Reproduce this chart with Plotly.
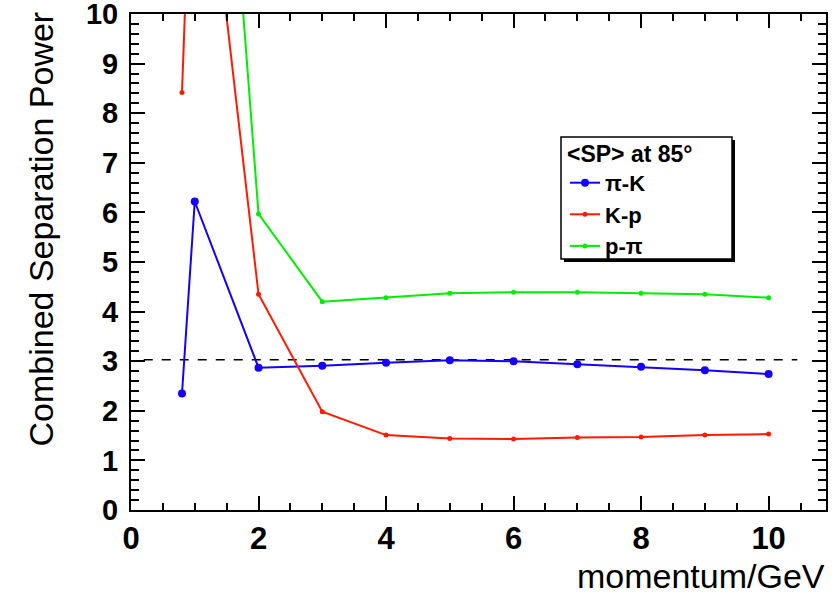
import plotly.graph_objects as go

# ---- data ----
momentum_pk = [0.8, 1, 2, 3, 4, 5, 6, 7, 8, 9, 10]
sp_pi_k = [2.35, 6.22, 2.87, 2.91, 2.97, 3.02, 3.00, 2.94, 2.89, 2.82, 2.74]

momentum_kp = [0.8, 1, 2, 3, 4, 5, 6, 7, 8, 9, 10]
sp_k_p = [8.42, 15.5, 4.35, 1.98, 1.51, 1.44, 1.43, 1.46, 1.47, 1.51, 1.53]

momentum_ppi = [1, 2, 3, 4, 5, 6, 7, 8, 9, 10]
sp_p_pi = [22.8, 5.97, 4.20, 4.28, 4.37, 4.39, 4.39, 4.37, 4.35, 4.28]

ref_x = [0.2, 10.45]
ref_y = [3.03, 3.03]

x_range = [0, 10.9]
y_range = [0, 10.0005]
x_ticks = [0, 2, 4, 6, 8, 10]
y_ticks = [0, 1, 2, 3, 4, 5, 6, 7, 8, 9, 10]

FONT = "Liberation Sans, Arial, Helvetica, sans-serif"
W, H = 838, 597
ML, MR, MT, MB = 131, 12, 14, 87
PW, PH = W - ML - MR, H - MT - MB


def px_to_paper_x(px):
    return (px - ML) / PW


def px_to_paper_y(py):
    return (H - MB - py) / PH


fig = go.Figure()

fig.add_trace(go.Scatter(
    x=ref_x, y=ref_y, mode="lines",
    line=dict(color="black", width=1.5, dash="dash"),
    showlegend=False, hoverinfo="skip"))

fig.add_trace(go.Scatter(
    x=momentum_pk, y=sp_pi_k, mode="lines+markers", name="π-K",
    line=dict(color="#1400ff", width=2),
    marker=dict(color="#1400ff", size=8, symbol="circle")))

fig.add_trace(go.Scatter(
    x=momentum_kp, y=sp_k_p, mode="lines+markers", name="K-p",
    line=dict(color="#ff1a00", width=2),
    marker=dict(color="#ff1a00", size=5, symbol="circle")))

fig.add_trace(go.Scatter(
    x=momentum_ppi, y=sp_p_pi, mode="lines+markers", name="p-π",
    line=dict(color="#00ee00", width=2),
    marker=dict(color="#00ee00", size=5, symbol="circle")))

axis_common = dict(
    showline=True, linecolor="black", linewidth=2, mirror="ticks",
    ticks="inside", tickcolor="black", tickwidth=2, ticklen=14,
    showgrid=False, zeroline=False, ticklabeloverflow="allow",
    automargin=False,
)

fig.update_xaxes(
    range=x_range, tickvals=x_ticks, ticktext=[str(v) for v in x_ticks],
    minor=dict(dtick=0.5, tick0=0, ticks="inside", ticklen=7, tickwidth=2,
               tickcolor="black", showgrid=False),
    ticklabelstandoff=0,
    tickfont=dict(family=FONT, size=31, color="black", weight="bold"),
    **axis_common)
fig.update_yaxes(
    range=y_range, tickvals=y_ticks, ticktext=[str(v) for v in y_ticks],
    minor=dict(dtick=0.2, tick0=0, ticks="inside", ticklen=8, tickwidth=2,
               tickcolor="black", showgrid=False),
    ticklabelstandoff=5,
    tickfont=dict(family=FONT, size=29, color="black", weight="bold"),
    **axis_common)

# legend box with shadow
bx0, bx1, by0, by1 = 561, 732, 137, 259
fig.add_shape(type="rect", xref="paper", yref="paper",
              x0=px_to_paper_x(bx0 + 3), x1=px_to_paper_x(bx1 + 3),
              y0=px_to_paper_y(by1 + 3), y1=px_to_paper_y(by0 + 3),
              fillcolor="black", line=dict(color="black", width=0))
fig.add_shape(type="rect", xref="paper", yref="paper",
              x0=px_to_paper_x(bx0), x1=px_to_paper_x(bx1),
              y0=px_to_paper_y(by1), y1=px_to_paper_y(by0),
              fillcolor="white", line=dict(color="black", width=1.5))

fig.update_layout(
    width=W, height=H,
    margin=dict(l=ML, r=MR, t=MT, b=MB, autoexpand=False),
    paper_bgcolor="white", plot_bgcolor="white",
    font=dict(family=FONT, color="black"),
    legend=dict(
        x=px_to_paper_x(bx0 + 4), y=px_to_paper_y(by0 - 5),
        xanchor="left", yanchor="top",
        bgcolor="rgba(0,0,0,0)", borderwidth=0,
        title=dict(text="<SP> at 85°",
                   font=dict(family=FONT, size=23, weight="bold", color="black")),
        font=dict(family=FONT, size=22, weight="bold", color="black"),
        tracegroupgap=0,
    ),
    annotations=[
        dict(text="momentum/GeV", xref="paper", yref="paper",
             x=px_to_paper_x(827), y=px_to_paper_y(576),
             xanchor="right", yanchor="middle", showarrow=False,
             font=dict(family=FONT, size=34, color="black")),
        dict(text="Combined Separation Power", xref="paper", yref="paper",
             x=px_to_paper_x(40), y=px_to_paper_y(10),
             xanchor="center", yanchor="top", textangle=-90, showarrow=False,
             font=dict(family=FONT, size=34, color="black")),
    ],
)

fig.write_html("out.html")
